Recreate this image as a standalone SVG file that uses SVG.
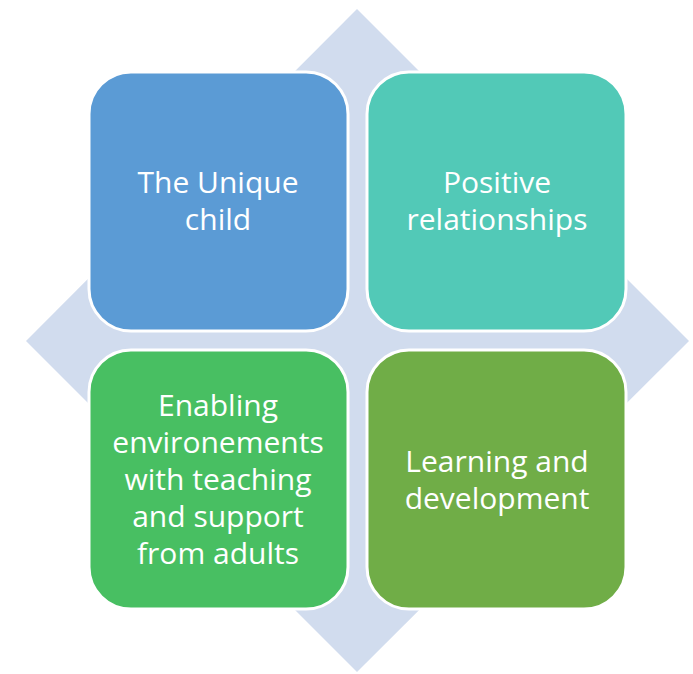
<svg xmlns="http://www.w3.org/2000/svg" width="693" height="674" viewBox="0 0 693 674">
<style>
.box{stroke:#ffffff;stroke-width:3}
.t{font-family:"Open Sans","Liberation Sans",Arial,sans-serif;font-size:30px;fill:#ffffff;text-anchor:middle}
</style>
<rect width="693" height="674" fill="#ffffff"/>
<g id="diamond"><polygon points="357,9 689,341 357,672 26,341" fill="#D1DCEE"/></g>
<g id="connectors"></g>
<g id="n1"><rect class="box" x="89" y="72" width="259" height="259" rx="42" fill="#5B9BD5"/>
<text class="t"><tspan x="218" y="193">The Unique</tspan><tspan x="218" y="230">child</tspan></text></g>
<g id="n2"><rect class="box" x="367" y="72" width="259" height="259" rx="42" fill="#52C9B7"/>
<text class="t"><tspan x="497" y="193">Positive</tspan><tspan x="497" y="230">relationships</tspan></text></g>
<g id="n3"><rect class="box" x="89" y="350" width="259" height="259" rx="42" fill="#48BF62"/>
<text class="t"><tspan x="218" y="416">Enabling</tspan><tspan x="218" y="453">environements</tspan><tspan x="218" y="490">with teaching</tspan><tspan x="218" y="527">and support</tspan><tspan x="218" y="564">from adults</tspan></text></g>
<g id="n4"><rect class="box" x="367" y="350" width="259" height="259" rx="42" fill="#70AD47"/>
<text class="t"><tspan x="497" y="472">Learning and</tspan><tspan x="497" y="509">development</tspan></text></g>
</svg>
